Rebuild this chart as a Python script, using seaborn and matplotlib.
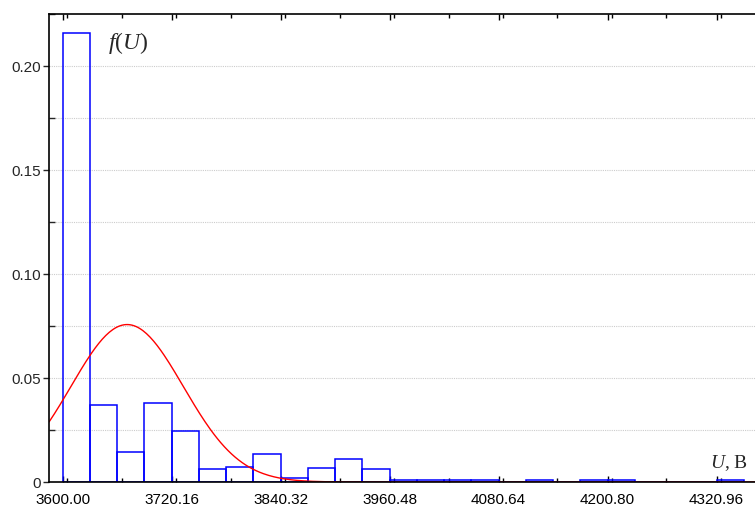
import numpy as np
import pandas as pd
import seaborn as sns
import matplotlib
matplotlib.use("Agg")
import matplotlib.pyplot as plt
from matplotlib.ticker import MultipleLocator, FixedLocator

# histogram: 25 bins of width 30.04 starting at 3600
bin_start = 3600.0
bin_width = 30.04
heights = [0.216, 0.0369, 0.0144, 0.0381, 0.0245, 0.0061, 0.0072, 0.0133,
           0.0021, 0.0066, 0.0109, 0.0061, 0.0012, 0.0012, 0.0012, 0.0012,
           0.0, 0.0010, 0.0, 0.0010, 0.0010, 0.0, 0.0, 0.0, 0.0010]

# fitted normal curve
curve_mu = 3671.0
curve_sigma = 62.0
curve_peak = 0.0757

xtick_vals = [3600.00, 3720.16, 3840.32, 3960.48, 4080.64, 4200.80, 4320.96]
ytick_vals = [0, 0.05, 0.10, 0.15, 0.20]
ytick_labels = ["0", "0.05", "0.10", "0.15", "0.20"]

sns.set_style("white")
plt.rcParams['font.family'] = ['Liberation Sans', 'DejaVu Sans']
plt.rcParams['mathtext.fontset'] = 'custom'
plt.rcParams['mathtext.rm'] = 'Liberation Serif'
plt.rcParams['mathtext.it'] = 'Liberation Serif:italic'

fig = plt.figure(figsize=(7.55, 5.09), dpi=100)
ax = fig.add_axes([0.0653, 0.053, 0.9347, 0.9195])

edges = [bin_start + bin_width * i for i in range(len(heights) + 1)]
df = pd.DataFrame({"center": [e + bin_width / 2 for e in edges[:-1]],
                   "h": heights})
sns.histplot(data=df, x="center", weights="h", bins=edges, stat="count",
             fill=False, element="bars", color="#0000ff", linewidth=1.1,
             ax=ax)

xc = np.linspace(3585, 4364, 400)
yc = curve_peak * np.exp(-(xc - curve_mu) ** 2 / (2 * curve_sigma ** 2))
sns.lineplot(x=xc, y=yc, color="#ff0000", linewidth=1.0, ax=ax)

ax.set_xlim(3585.2, 4363.3)
ax.set_ylim(0, 0.225)
ax.set_xlabel("")
ax.set_ylabel("")

ax.xaxis.set_major_locator(FixedLocator(xtick_vals))
ax.set_xticklabels(["%.2f" % v for v in xtick_vals])
ax.xaxis.set_minor_locator(MultipleLocator(60.08))
ax.yaxis.set_major_locator(FixedLocator(ytick_vals))
ax.set_yticklabels(ytick_labels)
ax.yaxis.set_minor_locator(MultipleLocator(0.025))

ax.tick_params(axis="x", which="both", direction="in", top=True, bottom=True,
               length=4, width=1, labelsize=11, pad=8, colors="black")
ax.tick_params(axis="x", which="minor", length=3)
ax.tick_params(axis="y", which="major", direction="out", left=True,
               length=4, width=1, labelsize=11, pad=2)
ax.tick_params(axis="y", which="minor", direction="in", left=True,
               length=4, width=1)

ax.grid(False)
for yv in np.arange(0.025, 0.225, 0.025):
    ax.axhline(yv, color="#cccccc", linestyle=(0, (1, 1)), linewidth=0.8, zorder=0)

for side in ["left", "top", "bottom"]:
    ax.spines[side].set_color("black")
    ax.spines[side].set_linewidth(1.2)
ax.spines["right"].set_visible(False)

ax.text(0.083, 0.939, "$f(U)$", transform=ax.transAxes, fontsize=17,
        va="center", ha="left")
ax.text(0.99, 0.041, "$U$, B", transform=ax.transAxes, fontsize=14,
        family="Liberation Serif", va="center", ha="right")

fig.savefig("out.png", dpi=100)
